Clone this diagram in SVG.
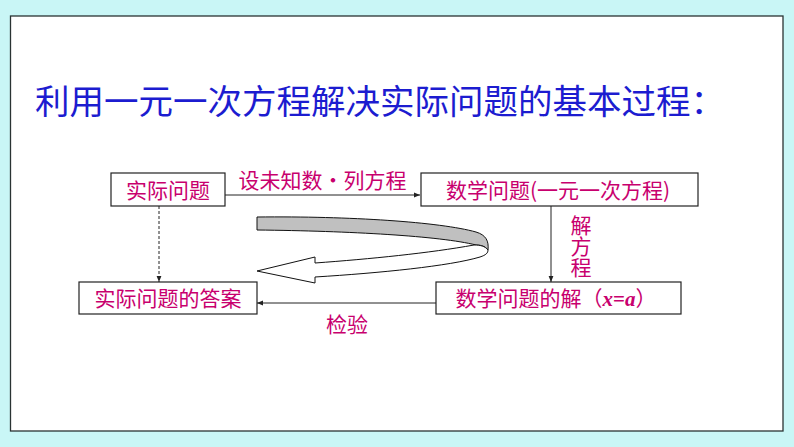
<svg xmlns="http://www.w3.org/2000/svg" width="794" height="447" viewBox="0 0 794 447">
<defs>
<style>
.t{font-family:"Noto Sans CJK SC","Liberation Sans",sans-serif;fill:#c8006e;font-size:21px}
.box{fill:#fff;stroke:#222;stroke-width:1.2}
.ln{stroke:#222;stroke-width:1;fill:none}
</style>
<marker id="ah" viewBox="0 0 10 10" refX="10" refY="5" markerWidth="6" markerHeight="6" orient="auto" markerUnits="userSpaceOnUse">
<path d="M0,1 L10,5 L0,9 Z" fill="#222"/>
</marker>
</defs>
<rect x="0" y="0" width="794" height="447" fill="#c9f6f6"/>
<rect x="10.5" y="16" width="772.5" height="415" fill="#fff" stroke="#2a3333" stroke-width="1.3"/>
<text x="35" y="114" font-family="'Noto Sans CJK SC',sans-serif" font-size="34.5" fill="#1c1cd0">利用一元一次方程解决实际问题的基本过程：</text>

<g id="connectors">
<line class="ln" x1="225" y1="195" x2="420" y2="195" marker-end="url(#ah)"/>
<line class="ln" x1="551" y1="206" x2="551" y2="282" marker-end="url(#ah)"/>
<line class="ln" x1="436" y1="303" x2="257" y2="303" marker-end="url(#ah)"/>
<line class="ln" x1="159" y1="206" x2="159" y2="282" stroke-dasharray="3,2" marker-end="url(#ah)"/>
<text class="t" x="322.5" y="188" text-anchor="middle">设未知数·列方程</text>
<text class="t" x="581" y="215" writing-mode="vertical-rl" font-size="20">解方程</text>
<text class="t" x="347" y="332" text-anchor="middle">检验</text>
</g>

<g id="loop-arrow">
<path d="M257,217 C350,216 440,222 476,232 C486,235 489,241 488,250 C485,246 481,245 476,245 C440,236 350,231 257,230 Z" fill="#c0c0c0" stroke="#111" stroke-width="1"/>
<path d="M474,245 C430,253 370,259 315,263 L315,257 L257,271 L315,283 L315,277 C380,273 450,266 480,257 C486,255 488,253 488,250 C485,246 480,245 474,245 Z" fill="#fff" stroke="#111" stroke-width="1"/>
</g>

<g id="n1">
<rect class="box" x="111" y="173" width="114" height="33"/>
<text class="t" x="168" y="198" text-anchor="middle">实际问题</text>
</g>
<g id="n2">
<rect class="box" x="421" y="173" width="277" height="33"/>
<text class="t" x="558" y="198" text-anchor="middle">数学问题(一元一次方程)</text>
</g>
<g id="n3">
<rect class="box" x="436" y="282" width="245" height="32"/>
<text class="t" x="556" y="306" text-anchor="middle">数学问题的解（<tspan font-family="'Liberation Serif',serif" font-style="italic" font-weight="bold">x</tspan><tspan font-family="'Liberation Serif',serif" font-weight="bold">=</tspan><tspan font-family="'Liberation Serif',serif" font-style="italic" font-weight="bold">a</tspan>）</text>
</g>
<g id="n4">
<rect class="box" x="79" y="282" width="178" height="32"/>
<text class="t" x="168" y="306" text-anchor="middle" font-size="22">实际问题的答案</text>
</g>
</svg>
